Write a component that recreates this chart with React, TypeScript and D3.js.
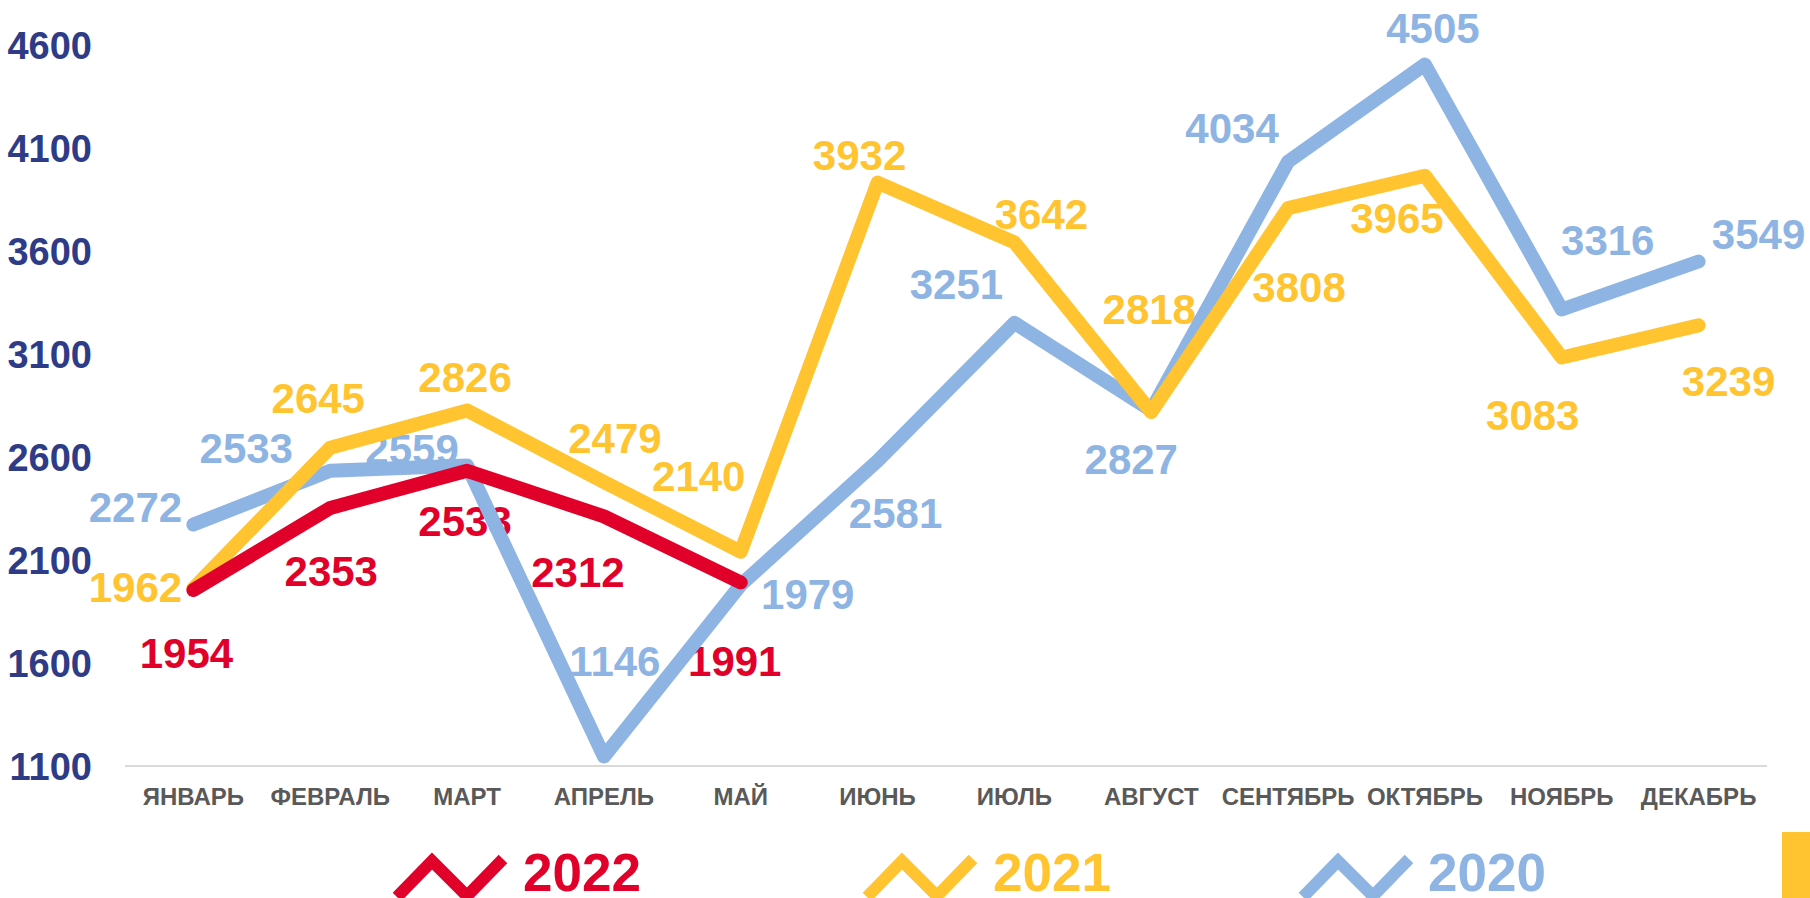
import React from "react";
import * as d3 from "d3";

const months = ["ЯНВАРЬ", "ФЕВРАЛЬ", "МАРТ", "АПРЕЛЬ", "МАЙ", "ИЮНЬ", "ИЮЛЬ", "АВГУСТ", "СЕНТЯБРЬ", "ОКТЯБРЬ", "НОЯБРЬ", "ДЕКАБРЬ"];
const values2020 = [2272, 2533, 2559, 1146, 1979, 2581, 3251, 2827, 4034, 4505, 3316, 3549];
const values2021 = [1962, 2645, 2826, 2479, 2140, 3932, 3642, 2818, 3808, 3965, 3083, 3239];
const values2022 = [1954, 2353, 2533, 2312, 1991];
const yTicks = [1100, 1600, 2100, 2600, 3100, 3600, 4100, 4600];
const seriesNames = ["2022", "2021", "2020"];

// label offsets (px) relative to each point
const off2020: [number, number][] = [[-58, -18], [-84, -23], [-55, -16], [11, -96], [67, 9], [18, 52], [-58, -39], [-20, 49], [-56, -34], [8, -37], [46, -70], [60, -28]];
const off2021: [number, number][] = [[-58, -1], [-12, -50], [-2, -33], [11, -44], [-42, -76], [-18, -28], [27, -28], [-2, -103], [11, 79], [-28, 42], [-29, 57], [30, 56]];
const off2022: [number, number][] = [[-7, 63], [1, 63], [-2, 50], [-26, 56], [-6, 79]];

const COLORS: Record<string, string> = { "2022": "#E1002A", "2021": "#FFC430", "2020": "#8EB4E3" };
const FONT = "'Liberation Sans', Arial, sans-serif";

export default function App() {
  const W = 1810, H = 898;
  const x = d3.scaleBand<string>().domain(months).range([125, 1767]).padding(0);
  const y = d3.scaleLinear().domain([1100, 4600]).range([766, 45]);
  const cx = (i: number) => (x(months[i]) as number) + x.bandwidth() / 2;
  const line = d3.line<number>().x((_, i) => cx(i)).y((d) => y(d));

  const series = [
    { name: "2020", values: values2020, off: off2020 },
    { name: "2021", values: values2021, off: off2021 },
    { name: "2022", values: values2022, off: off2022 },
  ];

  const legendPos: Record<string, { icon: number; text: number }> = {
    "2022": { icon: 397, text: 523 },
    "2021": { icon: 867, text: 993 },
    "2020": { icon: 1303, text: 1428 },
  };

  return (
    <div style={{ position: "absolute", left: 0, top: 0 }}>
      <svg width={W} height={H} style={{ display: "block", background: "#fff" }}>
        {/* y axis labels */}
        {yTicks.map((t) => (
          <text key={t} x={92} y={y(t) + 13.5} textAnchor="end" fontFamily={FONT} fontWeight="bold" fontSize={38} fill="#2E3B86">
            {t}
          </text>
        ))}
        {/* x axis line */}
        <line x1={125} x2={1767} y1={y(1100)} y2={y(1100)} stroke="#D9D9D9" strokeWidth={2} />
        {months.map((m, i) => (
          <text key={m} x={cx(i)} y={805} textAnchor="middle" fontFamily={FONT} fontWeight="bold" fontSize={24} fill="#595959">
            {m}
          </text>
        ))}
        {/* data labels */}
        {series.map((s) =>
          s.values.map((v, i) => (
            <text
              key={s.name + i}
              x={cx(i) + s.off[i][0]}
              y={y(v) + s.off[i][1] + 15}
              textAnchor="middle"
              fontFamily={FONT}
              fontWeight="bold"
              fontSize={42}
              fill={COLORS[s.name]}
            >
              {v}
            </text>
          ))
        )}
        {/* lines */}
        {series.map((s) => (
          <path
            key={s.name}
            d={line(s.values) || ""}
            fill="none"
            stroke={COLORS[s.name]}
            strokeWidth={14}
            strokeLinecap="round"
            strokeLinejoin="round"
          />
        ))}
        {/* legend */}
        {seriesNames.map((n) => {
          const p = legendPos[n];
          const pts: [number, number][] = [
            [p.icon, 897],
            [p.icon + 35, 861],
            [p.icon + 70, 896],
            [p.icon + 106, 859],
          ];
          return (
            <g key={n}>
              <path
                d={d3.line()(pts) || ""}
                fill="none"
                stroke={COLORS[n]}
                strokeWidth={12}
                strokeLinejoin="miter"
                strokeLinecap="butt"
              />
              <text x={p.text} y={891} fontFamily={FONT} fontWeight="bold" fontSize={53} fill={COLORS[n]}>
                {n}
              </text>
            </g>
          );
        })}
        <rect x={1782} y={832} width={28} height={66} fill="#FFC430" />
      </svg>
    </div>
  );
}
